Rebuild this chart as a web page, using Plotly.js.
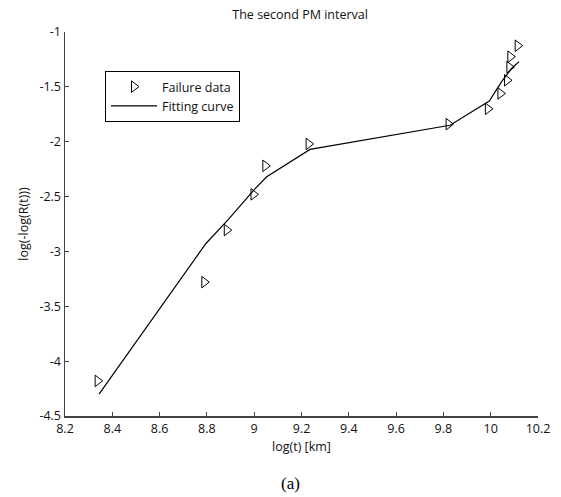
<!DOCTYPE html>
<html>
<head>
<meta charset="utf-8">
<script src="https://cdn.plot.ly/plotly-3.0.1.min.js"></script>
<style>html,body{margin:0;padding:0;background:#fff;}#chart{width:561px;height:497px;}</style>
</head>
<body>
<div id="chart"></div>
<script>
// Failure data (log(t), log(-log(R(t))))
const failX = [8.338, 8.789, 8.884, 8.997, 9.047, 9.230, 9.822, 9.988, 10.041, 10.069, 10.079, 10.083, 10.114];
const failY = [-4.18, -3.28, -2.805, -2.48, -2.22, -2.02, -1.84, -1.70, -1.56, -1.44, -1.32, -1.225, -1.125];
// Fitting curve
const fitX = [8.344, 8.795, 8.890, 9.003, 9.053, 9.236, 9.828, 9.994, 10.047, 10.075, 10.085, 10.089, 10.120];
const fitY = [-4.30, -2.93, -2.71, -2.43, -2.32, -2.07, -1.85, -1.63, -1.45, -1.37, -1.34, -1.33, -1.27];
// Ticks
const xTickVals = [8.2, 8.4, 8.6, 8.8, 9, 9.2, 9.4, 9.6, 9.8, 10, 10.2];
const xTickText = ["8.2", "8.4", "8.6", "8.8", "9", "9.2", "9.4", "9.6", "9.8", "10", "10.2"];
const yTickVals = [-1, -1.5, -2, -2.5, -3, -3.5, -4, -4.5];
const yTickText = ["-1", "-1.5", "-2", "-2.5", "-3", "-3.5", "-4", "-4.5"];

const FONT = "Open Sans, Lato, sans-serif";

const traces = [
  {
    x: failX, y: failY, type: "scatter", mode: "markers", name: "Failure data",
    marker: {symbol: "triangle-right-open", size: 10, color: "#000", line: {width: 1, color: "#000"}}
  },
  {
    x: fitX, y: fitY, type: "scatter", mode: "lines", name: "Fitting curve",
    line: {color: "#000", width: 1.2}
  }
];

const layout = {
  width: 561, height: 497,
  margin: {l: 65, r: 23, t: 32, b: 81},
  paper_bgcolor: "#fff", plot_bgcolor: "#fff",
  font: {family: FONT, size: 12, color: "#111"},
  title: {text: "The second PM interval", font: {family: FONT, size: 12.5, color: "#111"},
          x: 0.535, xref: "container", y: 1 - 15/497, yref: "container", yanchor: "middle", xanchor: "center"},
  showlegend: true,
  legend: {x: 40/473, y: (416-71)/384, xanchor: "left", yanchor: "top",
           bordercolor: "#000", borderwidth: 1, bgcolor: "#fff",
           font: {family: FONT, size: 12.5, color: "#111"}, itemwidth: 46, tracegroupgap: 0},
  xaxis: {
    range: [8.2, 10.2], tickvals: xTickVals, ticktext: xTickText,
    ticks: "inside", ticklen: 4, tickcolor: "#444", tickwidth: 1,
    showline: true, linecolor: "#444", linewidth: 1.5, mirror: false,
    showgrid: false, zeroline: false,
    tickfont: {family: FONT, size: 12.5, color: "#111"},
    title: {text: "log(t) [km]", font: {family: FONT, size: 12.5, color: "#111"}, standoff: 6},
    automargin: false
  },
  yaxis: {
    range: [-4.5, -1], tickvals: yTickVals, ticktext: yTickText,
    ticks: "inside", ticklen: 4, tickcolor: "#444", tickwidth: 1,
    showline: true, linecolor: "#444", linewidth: 1.5, mirror: false,
    showgrid: false, zeroline: false,
    tickfont: {family: FONT, size: 12.5, color: "#111"},
    title: {text: "log(-log(R(t)))", font: {family: FONT, size: 12.5, color: "#111"}, standoff: 8},
    automargin: false
  },
  annotations: [
    {text: "(a)", xref: "paper", yref: "paper", x: (290-65)/473, y: (416-483)/384,
     xanchor: "center", yanchor: "middle", showarrow: false,
     font: {family: "Liberation Serif, Times New Roman, serif", size: 17, color: "#000"}}
  ]
};

Plotly.newPlot("chart", traces, layout, {displayModeBar: false, staticPlot: true});
</script>
</body>
</html>
